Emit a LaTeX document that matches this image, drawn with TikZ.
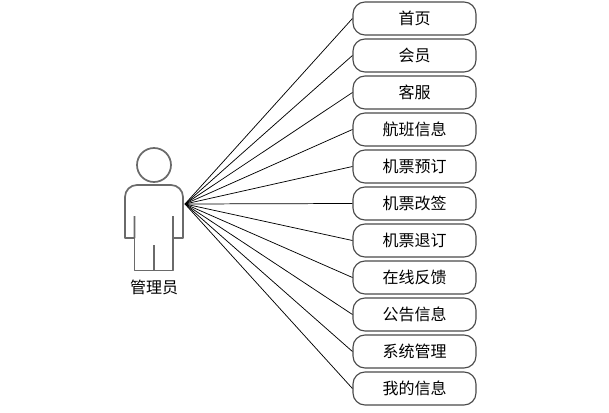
\documentclass[tikz,border=0pt]{standalone}
\usepackage{fontspec}
\setmainfont{Noto Sans CJK SC}
\definecolor{boxline}{HTML}{4A4A4A}
\definecolor{personline}{HTML}{6A6A6A}
\tikzset{
  menubox/.style={draw=boxline,line width=0.85pt,rounded corners=9pt,minimum width=92.25pt,minimum height=24.75pt,inner sep=0pt,font=\fontsize{12pt}{14pt}\selectfont,text=black,fill=white},
  link/.style={draw=black,line width=0.55pt},
  personstroke/.style={draw=personline,line width=1.3pt,line join=round},
  caption/.style={font=\fontsize{12pt}{14pt}\selectfont,text=black,inner sep=0pt}
}
\begin{document}
\begin{tikzpicture}[x=0.75pt,y=-0.75pt]
\useasboundingbox (0,0) rectangle (609,413);
% hub where all connectors meet
\coordinate (hub) at (185,204);
% actor
\node[personstroke,circle,minimum size=25.5pt,inner sep=0pt] (head) at (154,165) {};
\draw[personstroke] (134.5,216) -- (134.5,238) -- (125,238)
  [rounded corners=9pt] -- (125,185) -- (183,185) [sharp corners] -- (183,238) -- (173,238) -- (173,216);
\draw[personstroke] (134.5,238) -- (134.5,270.5) -- (173,270.5) -- (173,238);
\draw[personstroke] (153.7,245) -- (153.7,270.5);
\node[caption] (actorlabel) at (154,287) {管理员};
% menu boxes
\node[menubox] (b1) at (414.5,18.5) {首页};
\node[menubox] (b2) at (414.5,55.5) {会员};
\node[menubox] (b3) at (414.5,92.5) {客服};
\node[menubox] (b4) at (414.5,129.5) {航班信息};
\node[menubox] (b5) at (414.5,166.5) {机票预订};
\node[menubox] (b6) at (414.5,203.5) {机票改签};
\node[menubox] (b7) at (414.5,240.5) {机票退订};
\node[menubox] (b8) at (414.5,277.5) {在线反馈};
\node[menubox] (b9) at (414.5,314.5) {公告信息};
\node[menubox] (b10) at (414.5,351.5) {系统管理};
\node[menubox] (b11) at (414.5,388.5) {我的信息};
% connectors
\foreach \n in {1,...,11}{
  \draw[link] (hub) -- (b\n.west);
}
\end{tikzpicture}
\end{document}
